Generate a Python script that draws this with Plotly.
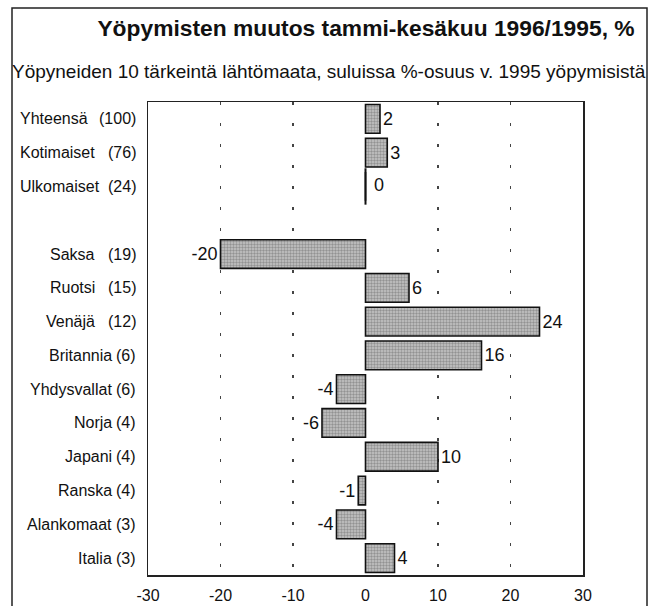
import plotly.graph_objects as go

# ---- data ----
names = ["Yhteensä", "Kotimaiset", "Ulkomaiset", "Saksa", "Ruotsi", "Venäjä",
         "Britannia", "Yhdysvallat", "Norja", "Japani", "Ranska", "Alankomaat", "Italia"]
shares = [100, 76, 24, 19, 15, 12, 6, 6, 4, 4, 4, 3, 3]
changes = [2, 3, 0, -20, 6, 24, 16, -4, -6, 10, -1, -4, 4]
n_totals = 3
x_ticks = [-30, -20, -10, 0, 10, 20, 30]

title = "Yöpymisten muutos tammi-kesäkuu 1996/1995, %"
subtitle = "Yöpyneiden 10 tärkeintä lähtömaata, suluissa %-osuus v. 1995 yöpymisistä"

# ---- layout geometry ----
W, H = 651, 606
ML, MR, MT, MB = 148, 68, 102, 31
PW, PH = W - ML - MR, H - MT - MB

SANS = "Liberation Sans, Arial, Helvetica, sans-serif"
INK = "#111111"

rows = names[:n_totals] + [" "] + names[n_totals:]
vals = changes[:n_totals] + [None] + changes[n_totals:]

fig = go.Figure()

fig.add_trace(go.Bar(
    x=vals, y=rows, orientation="h", width=0.85,
    marker=dict(
        color="#b8b8b8",
        line=dict(color=INK, width=1.6),
        pattern=dict(shape=".", fgcolor="#5e5e5e", bgcolor="#c6c6c6", size=3, solidity=0.5),
    ),
    text=[("" if (v is None or v == 0) else str(v)) for v in vals],
    textposition="outside",
    textfont=dict(family=SANS, size=18, color=INK),
    cliponaxis=False,
    hoverinfo="skip",
))

zero_rows = [r for r, v in zip(rows, vals) if v == 0]
zero_vals = [v for v in vals if v == 0]
fig.add_trace(go.Scatter(
    x=zero_vals, y=zero_rows, mode="markers",
    marker=dict(symbol="line-ns", size=26, line=dict(color=INK, width=2)),
    hoverinfo="skip", cliponaxis=False,
))
fig.add_trace(go.Scatter(
    x=zero_vals, y=zero_rows, mode="markers+text",
    text=[str(v) for v in zero_vals], textposition="middle right",
    marker=dict(size=12, color="rgba(0,0,0,0)"),
    textfont=dict(family=SANS, size=18, color=INK),
    hoverinfo="skip", cliponaxis=False,
))

LBL = dict(family=SANS, size=16, color=INK)
annotations = []
for i, (nm, sh) in enumerate(zip(names, shares)):
    annotations.append(dict(
        x=0, xref="paper", y=nm, yref="y", text=f"({sh})", showarrow=False,
        xanchor="right", xshift=-10, yanchor="middle", font=LBL,
    ))
    if i < n_totals:
        annotations.append(dict(
            x=0, xref="paper", y=nm, yref="y", text=nm, showarrow=False,
            xanchor="left", xshift=18 - ML, yanchor="middle", font=LBL,
        ))
    else:
        end_px = 97 if sh >= 10 else 114
        annotations.append(dict(
            x=0, xref="paper", y=nm, yref="y", text=nm, showarrow=False,
            xanchor="right", xshift=end_px - ML, yanchor="middle", font=LBL,
        ))

annotations.append(dict(
    x=(329 - ML) / PW, xref="paper", y=(H - MB - 72) / PH, yref="paper",
    text=subtitle, showarrow=False, xanchor="center", yanchor="middle",
    font=dict(family=SANS, size=19, color=INK),
))

fig.update_layout(
    width=W, height=H,
    margin=dict(l=ML, r=MR, t=MT, b=MB),
    paper_bgcolor="white", plot_bgcolor="white",
    showlegend=False,
    title=dict(text=f"<b>{title}</b>", x=366 / W, xanchor="center",
               y=1 - 28 / H, yanchor="middle", yref="container",
               font=dict(family=SANS, size=22.8, color=INK)),
    annotations=annotations,
    shapes=[dict(type="rect", xref="paper", yref="paper",
                 x0=(12 - ML) / PW, x1=(647 - ML) / PW,
                 y0=(H - MB - 640) / PH, y1=(H - MB - 8) / PH,
                 line=dict(color="#222222", width=1.5), layer="below")],
    xaxis=dict(
        range=[x_ticks[0], x_ticks[-1]], tickvals=x_ticks,
        ticktext=[str(t) for t in x_ticks], ticks="", ticklabelstandoff=5,
        tickfont=dict(family=SANS, size=16, color=INK),
        showgrid=True, gridcolor="#444444", gridwidth=1.3, griddash="3px,18px",
        zeroline=True, zerolinecolor="rgba(0,0,0,0)", zerolinewidth=0,
        showline=True, linecolor="#222222", linewidth=1.5, mirror=True,
        automargin=False, fixedrange=True,
    ),
    yaxis=dict(
        type="category", categoryorder="array", categoryarray=rows,
        range=[len(rows) - 0.5, -0.5], showticklabels=False, ticks="",
        showgrid=False, zeroline=False,
        showline=True, linecolor="#222222", linewidth=1.5, mirror=True,
        automargin=False, fixedrange=True,
    ),
)

fig.write_html(
    "out.html",
    config={"displayModeBar": False, "staticPlot": True},
    post_script="document.body.style.margin='0';document.body.style.overflow='hidden';",
)
